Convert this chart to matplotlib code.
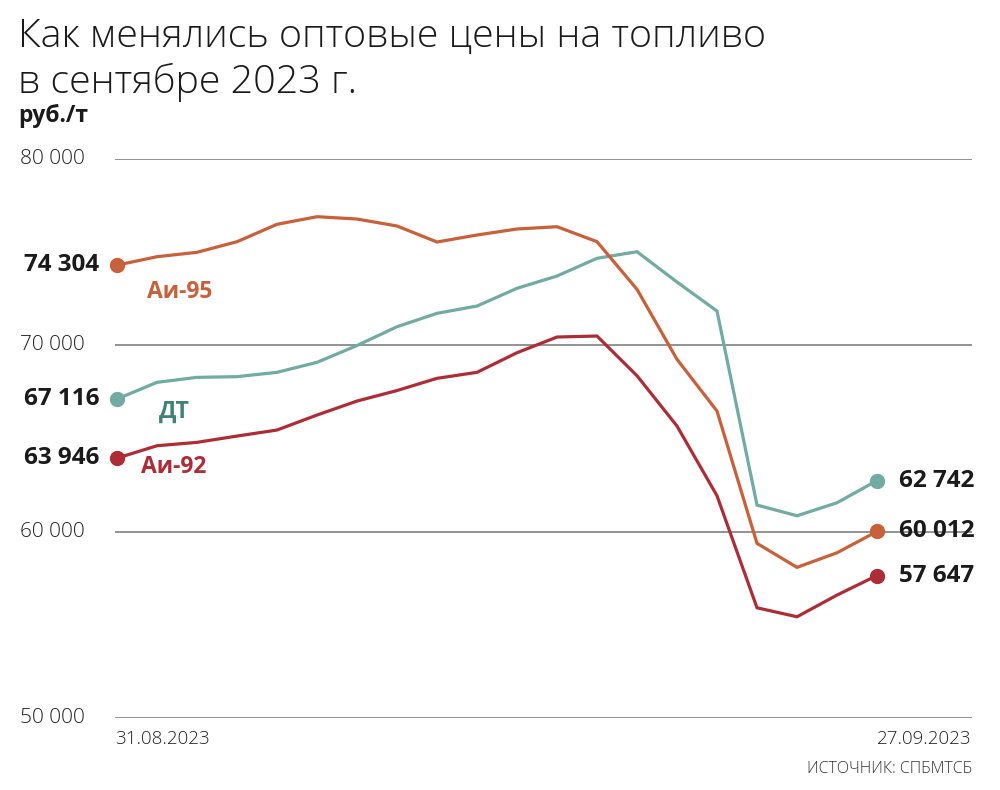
import matplotlib
matplotlib.use('Agg')
import matplotlib.pyplot as plt
from matplotlib.transforms import blended_transform_factory

# trading days 31.08.2023 - 27.09.2023
dates = ['31.08', '01.09', '04.09', '05.09', '06.09', '07.09', '08.09',
         '11.09', '12.09', '13.09', '14.09', '15.09', '18.09', '19.09',
         '20.09', '21.09', '22.09', '25.09', '26.09', '27.09']

ai95 = [74304, 74756, 74992, 75561, 76495, 76903, 76779, 76404, 75545, 75921,
        76243, 76366, 75561, 73006, 69249, 66473, 59372, 58084, 58867, 60012]
dt = [67116, 68014, 68282, 68318, 68551, 69087, 69990, 70998, 71718, 72109,
      73060, 73720, 74670, 75024, 73398, 71841, 61428, 60853, 61551, 62742]
ai92 = [63946, 64611, 64793, 65131, 65454, 66259, 67010, 67574, 68229, 68551,
        69603, 70446, 70499, 68368, 65668, 61927, 55915, 55432, 56597, 57647]

yticks = [50000, 60000, 70000, 80000]
first_label, last_label = '31.08.2023', '27.09.2023'

c95 = '#c8603a'
cdt = '#72aaa4'
c92 = '#ad2d37'
cdt_text = '#3f8078'

plt.rcParams['font.family'] = ['Open Sans', 'DejaVu Sans']

fig = plt.figure(figsize=(10, 7.9), dpi=100)
ax = fig.add_axes([0.115, 72 / 790, 0.857, 559 / 790])

x = list(range(len(dates)))
for ys, col in [(dt, cdt), (ai95, c95), (ai92, c92)]:
    ax.plot(x, ys, color=col, lw=2.3, solid_joinstyle='miter', zorder=3)
    ax.plot([x[0], x[-1]], [ys[0], ys[-1]], 'o', color=col, ms=10,
            clip_on=False, zorder=4)

def fmt(v):
    return f'{v:,}'.replace(',', ' ')

tick_trans = blended_transform_factory(fig.transFigure, ax.transData)
for v in yticks:
    ax.axhline(v, color='#8a8a8a', lw=1.3, zorder=1)
    fig.text(0.02, v, fmt(v), transform=tick_trans, ha='left', va='center',
             fontsize=15, color='#222222', fontweight='light')

ax.set_xlim(-0.05, 21.375)
ax.set_ylim(50000, 80000)
ax.axis('off')

for ys in (ai95, dt, ai92):
    ax.text(-0.45, ys[0], fmt(ys[0]), ha='right', va='center', fontsize=17.5,
            fontweight='bold', color='#1a1a1a')
    ax.text(x[-1] + 0.55, ys[-1], fmt(ys[-1]), ha='left', va='center', fontsize=17.5,
            fontweight='bold', color='#1a1a1a')

ax.text(0.75, ai95[0] - 1450, 'Аи-95', ha='left', va='center', fontsize=16.5,
        fontweight='bold', color=c95)
ax.text(1.05, dt[0] - 700, 'ДТ', ha='left', va='center', fontsize=16.5,
        fontweight='bold', color=cdt_text)
ax.text(0.6, ai92[0] - 450, 'Аи-92', ha='left', va='center', fontsize=16.5,
        fontweight='bold', color=c92)

fig.text(0.018, 0.9405, 'Как менялись оптовые цены на топливо',
         ha='left', va='baseline', fontsize=28.4, fontweight='light', color='#1a1a1a')
fig.text(0.018, 0.8823, 'в сентябре 2023 г.',
         ha='left', va='baseline', fontsize=28.4, fontweight='light', color='#1a1a1a')
fig.text(0.018, 0.8456, 'руб./т', ha='left', va='baseline', fontsize=16.5,
         fontweight='bold', color='#1a1a1a')

fig.text(0.115, 0.058, first_label, ha='left', va='baseline', fontsize=13.5,
         fontweight='light', color='#222222')
fig.text(0.972, 0.058, last_label, ha='right', va='baseline', fontsize=13.5,
         fontweight='light', color='#222222')
fig.text(0.972, 0.022, 'ИСТОЧНИК: СПБМТСБ', ha='right', va='baseline', fontsize=11.5,
         fontweight='light', color='#333333')

fig.savefig('out.png', dpi=100)
